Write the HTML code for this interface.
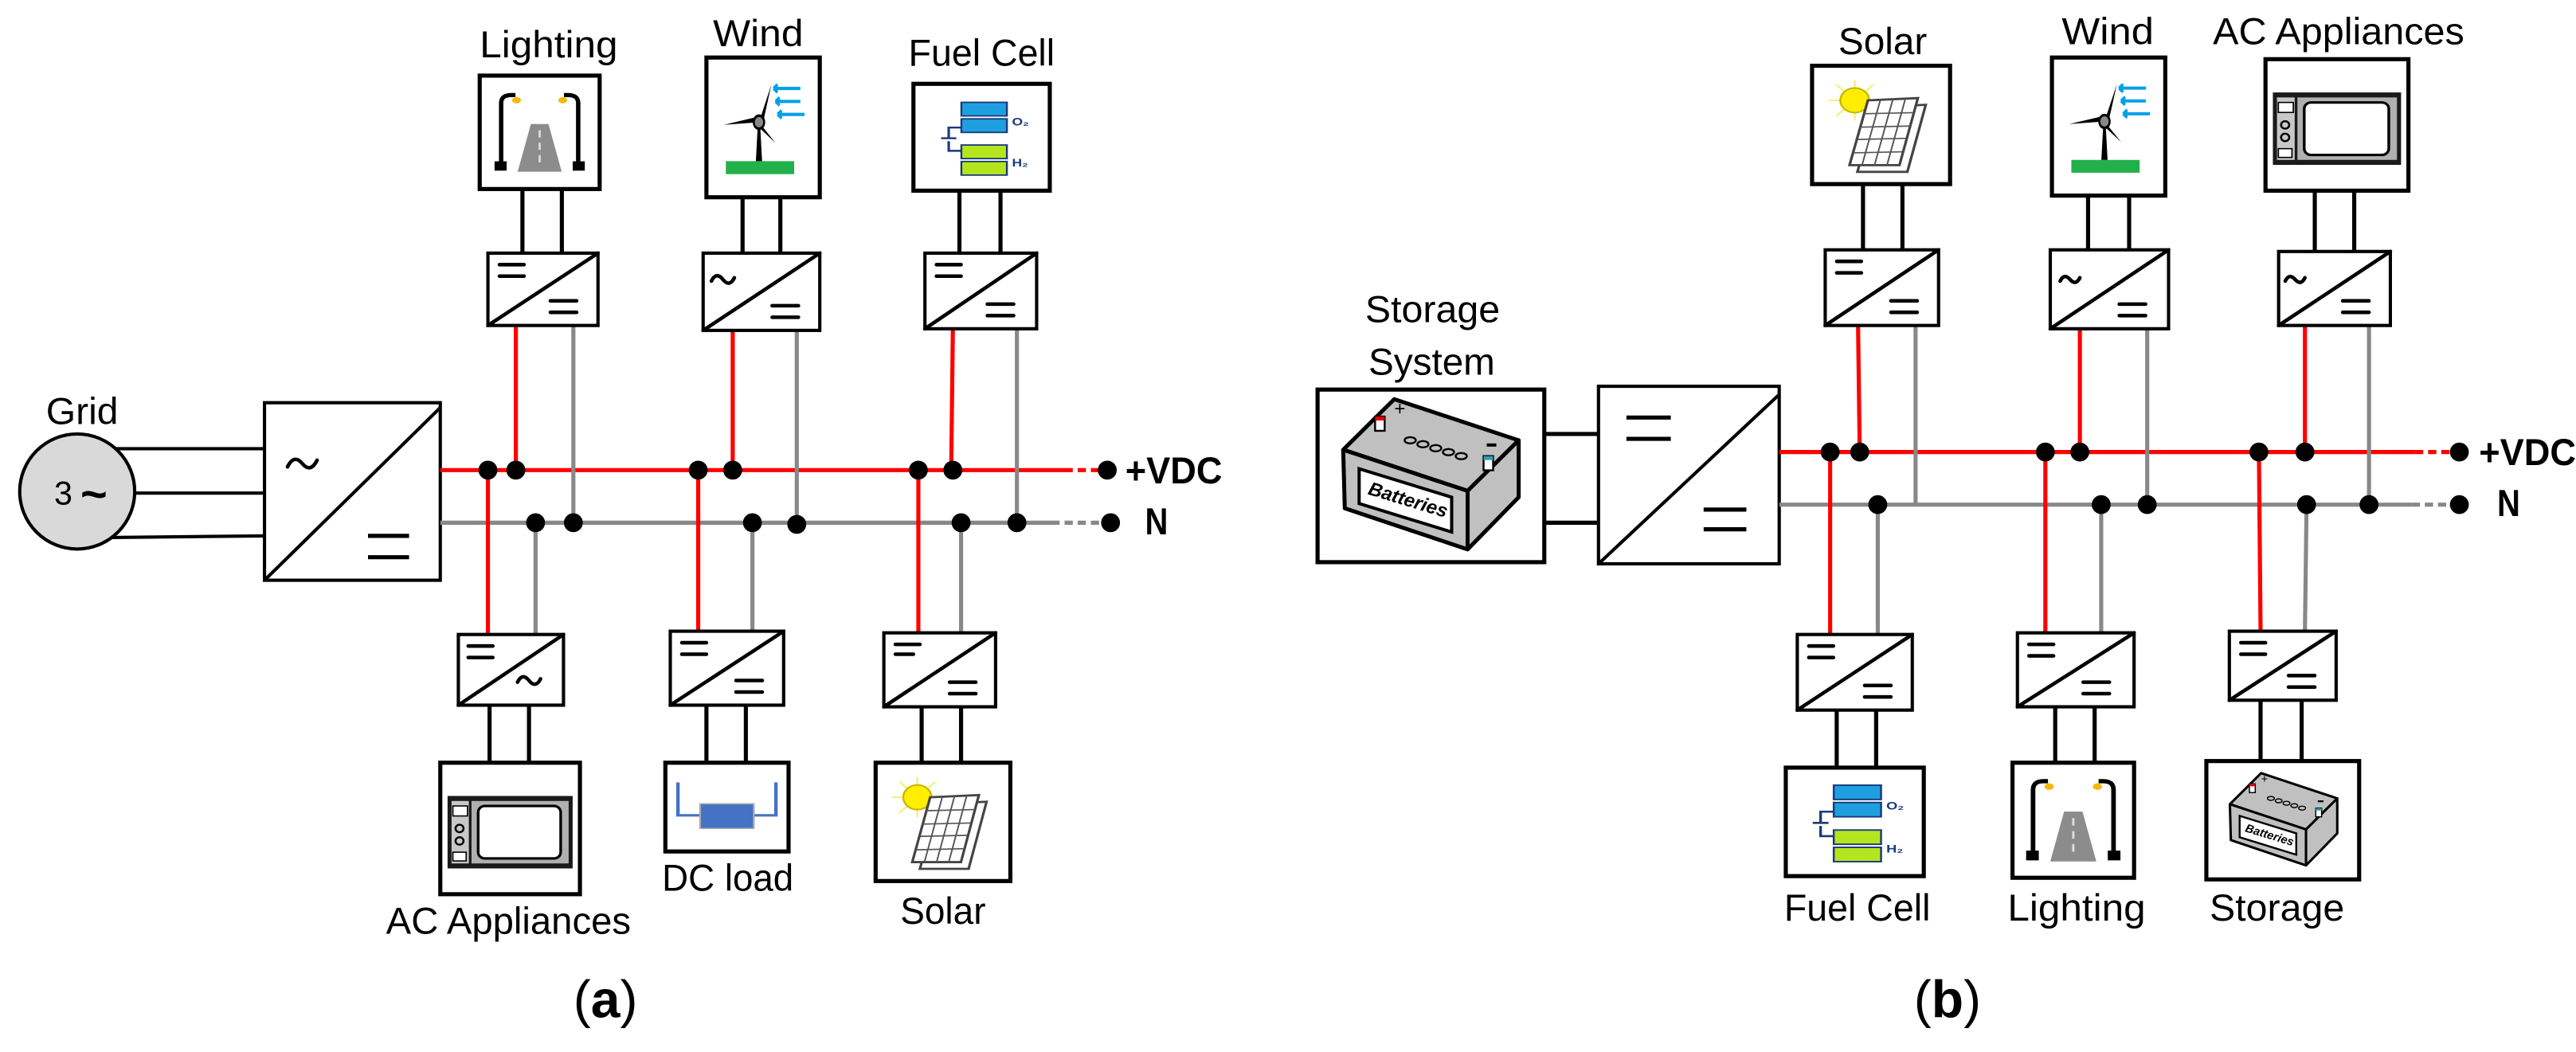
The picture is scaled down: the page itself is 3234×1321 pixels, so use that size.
<!DOCTYPE html>
<html><head><meta charset="utf-8"><style>
html,body{margin:0;padding:0;background:#fff;}
svg{display:block;}
text{font-family:"Liberation Sans",sans-serif;fill:#000;}
</style></head><body>
<svg width="3234" height="1321" viewBox="0 0 1568 640" preserveAspectRatio="none" xmlns="http://www.w3.org/2000/svg">
<defs>
<symbol id="light" viewBox="0 0 100 100" preserveAspectRatio="none">
 <polygon points="30,88 42,42 58,42 70,88" fill="#8c8c8c"/>
 <line x1="50" y1="48" x2="50" y2="84" stroke="#ddd" stroke-width="2" stroke-dasharray="7,5"/>
 <path d="M15,84 L15,22 Q15,14 24,14 L28,14" fill="none" stroke="#000" stroke-width="4"/>
 <path d="M85,84 L85,22 Q85,14 76,14 L72,14" fill="none" stroke="#000" stroke-width="4"/>
 <rect x="9" y="78" width="11" height="9" fill="#000"/><rect x="80" y="78" width="11" height="9" fill="#000"/>
 <ellipse cx="29" cy="19" rx="4" ry="3" fill="#f5b800"/><ellipse cx="71" cy="19" rx="4" ry="3" fill="#f5b800"/>
</symbol>
<symbol id="wind" viewBox="0 0 100 100" preserveAspectRatio="none">
 <rect x="14" y="76" width="66" height="10" fill="#22b04b"/>
 <polygon points="43,76 49,76 47,46 45,46" fill="#000"/>
 <path d="M46,46 L12,48 L44,42 Z" fill="#000"/>
 <path d="M46,46 L58,17 L50,46 Z" fill="#000"/>
 <path d="M46,46 L62,62 L46,50 Z" fill="#000"/>
 <circle cx="46" cy="46" r="5" fill="#888" stroke="#000" stroke-width="2"/>
 <g stroke="#00a0e8" stroke-width="2.5" fill="none">
 <path d="M60,20 L86,20 M60,20 l4,-3 M60,20 l4,3"/>
 <path d="M62,30 L86,30 M62,30 l4,-3 M62,30 l4,3"/>
 <path d="M64,40 L90,40 M64,40 l4,-3 M64,40 l4,3"/>
 </g>
</symbol>
<symbol id="fuel" viewBox="0 0 100 100" preserveAspectRatio="none">
 <g stroke="#1a3a7a" stroke-width="1.5">
 <rect x="34" y="14" width="36" height="14" fill="#1ea0e0"/><rect x="34" y="31" width="36" height="14" fill="#1ea0e0"/>
 <rect x="34" y="58" width="36" height="14" fill="#b5e61d"/><rect x="34" y="75" width="36" height="14" fill="#b5e61d"/>
 </g>
 <path d="M34,40 L24,40 L24,50 M18,51 L30,51 M24,54 L24,64 L34,64" fill="none" stroke="#1a3a7a" stroke-width="2"/>
 <text x="74" y="38" font-size="11" font-weight="bold" style="fill:#1a3a7a">O₂</text>
 <text x="74" y="80" font-size="11" font-weight="bold" style="fill:#1a3a7a">H₂</text>
</symbol>
<symbol id="micro" viewBox="0 0 100 100" preserveAspectRatio="none">
 <rect x="3" y="24" width="94" height="58" fill="#1a1a1a"/>
 <rect x="21" y="28" width="73" height="50" fill="#b0b0b0"/>
 <rect x="26" y="32" width="62" height="42" rx="5" fill="#fff" stroke="#000" stroke-width="2"/>
 <rect x="6" y="28" width="13" height="50" fill="#c8c8c8"/>
 <rect x="7" y="32" width="11" height="8" fill="#fff" stroke="#000"/>
 <circle cx="12" cy="50" r="3" fill="none" stroke="#000" stroke-width="1.5"/>
 <circle cx="12" cy="60" r="3" fill="none" stroke="#000" stroke-width="1.5"/>
 <rect x="7" y="69" width="10" height="7" fill="#fff" stroke="#000"/>
</symbol>
<symbol id="dcl" viewBox="0 0 100 100" preserveAspectRatio="none">
 <path d="M8,20 L8,60 L92,60 L92,20" fill="none" stroke="#4472c4" stroke-width="3"/>
 <rect x="27" y="46" width="46" height="30" fill="#4472c4" stroke="#aaa" stroke-width="1.5"/>
</symbol>
<symbol id="solar" viewBox="0 0 100 100" preserveAspectRatio="none">
 <g stroke="#f5f07a" stroke-width="1.5">
 <line x1="30" y1="10" x2="30" y2="46"/><line x1="10" y1="28" x2="50" y2="28"/><line x1="16" y1="14" x2="44" y2="42"/><line x1="44" y1="14" x2="16" y2="42"/>
 </g>
 <ellipse cx="30" cy="28" rx="11" ry="11" fill="#ffee00" stroke="#c8b800" stroke-width="1.5"/>
 <polygon points="46,34 84,32 70,92 32,92" fill="#fff" stroke="#444" stroke-width="2"/>
 <polygon points="40,28 78,26 64,86 26,86" fill="#fff" stroke="#444" stroke-width="2"/>
 <g stroke="#555" stroke-width="1.2">
 <line x1="49.5" y1="27.5" x2="35.5" y2="86"/><line x1="59" y1="27" x2="45" y2="86"/><line x1="68.5" y1="26.5" x2="54.5" y2="86"/>
 <line x1="37" y1="40" x2="75" y2="39"/><line x1="34" y1="52" x2="72" y2="51"/><line x1="32" y1="63" x2="69" y2="62"/><line x1="29" y1="75" x2="67" y2="74"/>
 </g>
</symbol>
<symbol id="bat" viewBox="0 0 138 105" preserveAspectRatio="none">
 <g stroke="#000" stroke-width="2.5" stroke-linejoin="round">
 <polygon points="14,36 46,4 124,30 92,62" fill="#c0c0c0"/>
 <polygon points="14,36 92,62 92,99 15,73" fill="#c0c0c0"/>
 <polygon points="92,62 124,30 124,66 92,99" fill="#c0c0c0"/>
 </g>
 <polygon points="24,48 82,66 82,88 24,70" fill="#fff" stroke="#000" stroke-width="2"/>
 <text x="0" y="0" font-size="12" font-weight="bold" font-style="italic" transform="translate(29,64) rotate(17)">Batteries</text>
 <rect x="34" y="15" width="6" height="9" fill="#fff" stroke="#000" stroke-width="1.2"/><rect x="34" y="15" width="6" height="2.5" fill="#e00000"/>
 <rect x="102" y="40" width="6" height="9" fill="#fff" stroke="#000" stroke-width="1.2"/><rect x="102" y="40" width="6" height="2.5" fill="#2aa0b0"/>
 <text x="46" y="14" font-size="12">+</text>
 <line x1="104" y1="33" x2="110" y2="33" stroke="#000" stroke-width="2"/>
 <g fill="none" stroke="#000" stroke-width="1.2">
 <ellipse cx="56" cy="30" rx="3.5" ry="2"/><ellipse cx="64" cy="32.5" rx="3.5" ry="2"/><ellipse cx="72" cy="35" rx="3.5" ry="2"/><ellipse cx="80" cy="37.5" rx="3.5" ry="2"/><ellipse cx="88" cy="40" rx="3.5" ry="2"/>
 </g>
</symbol>
</defs>

<g fill="none" stroke-linecap="butt">
<ellipse cx="47" cy="299" rx="35" ry="35" fill="#d9d9d9" stroke="#000" stroke-width="2"/>
<g stroke="#000" stroke-width="2">
<line x1="70" y1="273" x2="161" y2="273"/><line x1="82" y1="300" x2="161" y2="300"/><line x1="68" y1="327" x2="161" y2="326"/>
</g>
<rect x="161" y="245" width="107" height="108" fill="#fff" stroke="#000" stroke-width="2"/>
<line x1="161" y1="353" x2="268" y2="248" stroke="#000" stroke-width="2"/>
<line x1="224" y1="326" x2="249" y2="326" stroke="#000" stroke-width="2.5"/><line x1="224" y1="339" x2="249" y2="339" stroke="#000" stroke-width="2.5"/>

<line x1="268" y1="286" x2="648" y2="286" stroke="#ff0000" stroke-width="2.5"/>
<line x1="648" y1="286" x2="672" y2="286" stroke="#ff0000" stroke-width="2.5" stroke-dasharray="5,3"/>
<line x1="268" y1="318" x2="640" y2="318" stroke="#888" stroke-width="2.5"/>
<line x1="640" y1="318" x2="674" y2="318" stroke="#888" stroke-width="2.5" stroke-dasharray="5,3"/>

<g stroke="#ff0000" stroke-width="2.5">
<line x1="314" y1="198" x2="314" y2="286"/><line x1="446" y1="201" x2="446" y2="286"/><line x1="580" y1="200" x2="579" y2="286"/>
<line x1="297" y1="286" x2="297" y2="386"/><line x1="425" y1="286" x2="425" y2="384"/><line x1="559" y1="286" x2="559" y2="385"/>
</g>
<g stroke="#888" stroke-width="2.5">
<line x1="349" y1="198" x2="349" y2="318"/><line x1="485" y1="201" x2="485" y2="319"/><line x1="619" y1="200" x2="619" y2="318"/>
<line x1="326" y1="318" x2="326" y2="386"/><line x1="458" y1="318" x2="458" y2="384"/><line x1="585" y1="318" x2="585" y2="385"/>
</g>
<g stroke="#000" stroke-width="2.5">
<line x1="318" y1="115" x2="318" y2="154"/><line x1="342" y1="115" x2="342" y2="154"/>
<line x1="452" y1="120" x2="452" y2="154"/><line x1="475" y1="120" x2="475" y2="154"/>
<line x1="584" y1="116" x2="584" y2="154"/><line x1="609" y1="116" x2="609" y2="154"/>
<line x1="298" y1="429" x2="298" y2="464"/><line x1="322" y1="429" x2="322" y2="464"/>
<line x1="430" y1="429" x2="430" y2="464"/><line x1="454" y1="429" x2="454" y2="464"/>
<line x1="561" y1="430" x2="561" y2="464"/><line x1="585" y1="430" x2="585" y2="464"/>
</g>
<g stroke="#000" stroke-width="2.5" fill="#fff">
<rect x="292" y="46" width="73" height="69"/>
<rect x="430" y="35" width="69" height="85"/>
<rect x="556" y="51" width="83" height="65"/>
<rect x="268" y="464" width="85" height="80"/>
<rect x="405" y="464" width="75" height="54"/>
<rect x="533" y="464" width="82" height="72"/>
</g>
<use href="#light" x="295" y="49" width="67" height="63"/>
<use href="#wind" x="433" y="38" width="63" height="79"/>
<use href="#fuel" x="559" y="54" width="77" height="59"/>
<use href="#micro" x="270" y="466" width="81" height="76"/>
<use href="#dcl" x="407" y="466" width="71" height="50"/>
<use href="#solar" x="535" y="466" width="78" height="68"/>

<g stroke="#000" stroke-width="2" fill="#fff">
<rect x="297" y="154" width="67" height="44"/><rect x="428" y="154" width="71" height="47"/><rect x="563" y="154" width="68" height="46"/>
<rect x="279" y="386" width="64" height="43"/><rect x="408" y="384" width="69" height="45"/><rect x="538" y="385" width="68" height="45"/>
</g>
<g stroke="#000" stroke-width="2.2" stroke-linecap="round">
<line x1="297" y1="198" x2="364" y2="154"/><line x1="428" y1="201" x2="499" y2="154"/><line x1="563" y1="200" x2="631" y2="154"/>
<line x1="279" y1="429" x2="343" y2="386"/><line x1="408" y1="429" x2="477" y2="384"/><line x1="538" y1="430" x2="606" y2="385"/>
<path d="M304,161h15M304,168h15"/><path d="M570,161h15M570,168h15"/>
<path d="M285,393h15M285,400h15"/><path d="M415,391h15M415,398h15"/><path d="M545,392h15M545,398h11"/>
<path d="M335,183h16M335,190h16"/><path d="M470,186h16M470,193h16"/><path d="M601,185h16M601,192h16"/>
<path d="M448,414h16M448,421h16"/><path d="M578,415h16M578,422h16"/>
</g>
<g fill="#000" stroke="#000" stroke-width="2.5">
<circle cx="297" cy="286" r="4.5"/><circle cx="314" cy="286" r="4.5"/><circle cx="425" cy="286" r="4.5"/><circle cx="446" cy="286" r="4.5"/><circle cx="559" cy="286" r="4.5"/><circle cx="580" cy="286" r="4.5"/><circle cx="674" cy="286" r="4.5"/>
<circle cx="326" cy="318" r="4.5"/><circle cx="349" cy="318" r="4.5"/><circle cx="458" cy="318" r="4.5"/><circle cx="485" cy="319" r="4.5"/><circle cx="585" cy="318" r="4.5"/><circle cx="619" cy="318" r="4.5"/><circle cx="676" cy="318" r="4.5"/>
</g>

<rect x="802" y="237" width="138" height="105" fill="#fff" stroke="#000" stroke-width="2.5"/>
<use href="#bat" x="804" y="239" width="134" height="101"/>
<line x1="940" y1="264" x2="973" y2="264" stroke="#000" stroke-width="2.5"/>
<line x1="940" y1="318" x2="973" y2="318" stroke="#000" stroke-width="2.5"/>
<rect x="973" y="235" width="110" height="108" fill="#fff" stroke="#000" stroke-width="2"/>
<line x1="973" y1="343" x2="1083" y2="240" stroke="#000" stroke-width="2"/>
<path d="M990,254h27M990,267h27M1037,310h26M1037,322h26" stroke="#000" stroke-width="2.5"/>

<line x1="1083" y1="275" x2="1470" y2="275" stroke="#ff0000" stroke-width="2.5"/>
<line x1="1470" y1="275" x2="1494" y2="275" stroke="#ff0000" stroke-width="2.5" stroke-dasharray="5,3"/>
<line x1="1083" y1="307" x2="1468" y2="307" stroke="#888" stroke-width="2.5"/>
<line x1="1468" y1="307" x2="1494" y2="307" stroke="#888" stroke-width="2.5" stroke-dasharray="5,3"/>

<g stroke="#ff0000" stroke-width="2.5">
<line x1="1131" y1="198" x2="1132" y2="275"/><line x1="1266" y1="200" x2="1266" y2="275"/><line x1="1403" y1="198" x2="1403" y2="275"/>
<line x1="1114" y1="275" x2="1114" y2="386"/><line x1="1245" y1="275" x2="1245" y2="385"/><line x1="1375" y1="275" x2="1376" y2="384"/>
</g>
<g stroke="#888" stroke-width="2.5">
<line x1="1166" y1="198" x2="1166" y2="307"/><line x1="1307" y1="200" x2="1307" y2="307"/><line x1="1442" y1="198" x2="1442" y2="307"/>
<line x1="1143" y1="307" x2="1143" y2="386"/><line x1="1279" y1="307" x2="1279" y2="385"/><line x1="1404" y1="307" x2="1403" y2="384"/>
</g>
<g stroke="#000" stroke-width="2.5">
<line x1="1134" y1="112" x2="1134" y2="152"/><line x1="1158" y1="112" x2="1158" y2="152"/>
<line x1="1271" y1="119" x2="1271" y2="152"/><line x1="1296" y1="119" x2="1296" y2="152"/>
<line x1="1409" y1="116" x2="1409" y2="153"/><line x1="1433" y1="116" x2="1433" y2="153"/>
<line x1="1118" y1="432" x2="1118" y2="467"/><line x1="1142" y1="432" x2="1142" y2="467"/>
<line x1="1251" y1="430" x2="1251" y2="464"/><line x1="1275" y1="430" x2="1275" y2="464"/>
<line x1="1376" y1="426" x2="1376" y2="463"/><line x1="1401" y1="426" x2="1401" y2="463"/>
</g>
<g stroke="#000" stroke-width="2.5" fill="#fff">
<rect x="1103" y="40" width="84" height="72"/>
<rect x="1249" y="35" width="69" height="84"/>
<rect x="1379" y="36" width="87" height="80"/>
<rect x="1087" y="467" width="84" height="66"/>
<rect x="1225" y="464" width="74" height="70"/>
<rect x="1343" y="463" width="93" height="72"/>
</g>
<use href="#solar" x="1105" y="42" width="80" height="68"/>
<use href="#wind" x="1252" y="38" width="63" height="78"/>
<use href="#micro" x="1381" y="38" width="83" height="76"/>
<use href="#fuel" x="1089" y="469" width="80" height="62"/>
<use href="#light" x="1227" y="466" width="70" height="66"/>
<use href="#bat" x="1349" y="468" width="82" height="62"/>

<g stroke="#000" stroke-width="2" fill="#fff">
<rect x="1111" y="152" width="69" height="46"/><rect x="1248" y="152" width="72" height="48"/><rect x="1387" y="153" width="68" height="45"/>
<rect x="1094" y="386" width="70" height="46"/><rect x="1228" y="385" width="71" height="45"/><rect x="1357" y="384" width="65" height="42"/>
</g>
<g stroke="#000" stroke-width="2.2" stroke-linecap="round">
<line x1="1111" y1="198" x2="1180" y2="152"/><line x1="1248" y1="200" x2="1320" y2="152"/><line x1="1387" y1="198" x2="1455" y2="153"/>
<line x1="1094" y1="432" x2="1164" y2="386"/><line x1="1228" y1="430" x2="1299" y2="385"/><line x1="1357" y1="426" x2="1422" y2="384"/>
<path d="M1118,159h15M1118,166h15"/>
<path d="M1101,393h15M1101,400h15"/><path d="M1235,392h15M1235,399h15"/><path d="M1364,391h15M1364,398h15"/>
<path d="M1151,183h16M1151,190h16"/><path d="M1290,185h16M1290,192h16"/><path d="M1426,183h16M1426,190h16"/>
<path d="M1135,417h16M1135,424h16"/><path d="M1268,415h16M1268,422h16"/><path d="M1393,411h16M1393,418h16"/>
</g>
<!-- tildes -->
<g stroke="#000" stroke-width="2.2" fill="none" stroke-linecap="round">
<path d="M175,284 q4,-8 9,-2 t9,-2"/>
<path d="M433,171 q3,-6 7,-1 t7,-1"/>
<path d="M315,415 q3,-6 7,-1 t7,-1"/>
<path d="M1254,171 q2.5,-5 6,-1 t6,-1"/>
<path d="M1391,171 q2.5,-5 6,-1 t6,-1"/>
</g>
<g fill="#000" stroke="#000" stroke-width="2.5">
<circle cx="1114" cy="275" r="4.5"/><circle cx="1132" cy="275" r="4.5"/><circle cx="1245" cy="275" r="4.5"/><circle cx="1266" cy="275" r="4.5"/><circle cx="1375" cy="275" r="4.5"/><circle cx="1403" cy="275" r="4.5"/><circle cx="1497" cy="275" r="4.5"/>
<circle cx="1143" cy="307" r="4.5"/><circle cx="1279" cy="307" r="4.5"/><circle cx="1307" cy="307" r="4.5"/><circle cx="1404" cy="307" r="4.5"/><circle cx="1442" cy="307" r="4.5"/><circle cx="1497" cy="307" r="4.5"/>
</g>
</g>

<g font-size="23">
<text x="292" y="35" textLength="84" lengthAdjust="spacingAndGlyphs">Lighting</text>
<text x="434" y="28" textLength="55" lengthAdjust="spacingAndGlyphs">Wind</text>
<text x="553" y="40" textLength="89" lengthAdjust="spacingAndGlyphs">Fuel Cell</text>
<text x="28" y="258" textLength="44" lengthAdjust="spacingAndGlyphs">Grid</text>
<text x="33" y="307" font-size="20">3</text>
<text x="49" y="310" font-size="28" font-weight="bold">~</text>
<text x="235" y="568" textLength="149" lengthAdjust="spacingAndGlyphs">AC Appliances</text>
<text x="403" y="542" textLength="80" lengthAdjust="spacingAndGlyphs">DC load</text>
<text x="548" y="562" textLength="52" lengthAdjust="spacingAndGlyphs">Solar</text>
<text x="685" y="294" font-weight="bold" textLength="59" lengthAdjust="spacingAndGlyphs">+VDC</text>
<text x="697" y="325" font-weight="bold" textLength="14" lengthAdjust="spacingAndGlyphs">N</text>

<text x="1119" y="33" textLength="54" lengthAdjust="spacingAndGlyphs">Solar</text>
<text x="1255" y="27" textLength="56" lengthAdjust="spacingAndGlyphs">Wind</text>
<text x="1347" y="27" textLength="153" lengthAdjust="spacingAndGlyphs">AC Appliances</text>
<text x="831" y="196" textLength="82" lengthAdjust="spacingAndGlyphs">Storage</text>
<text x="833" y="228" textLength="77" lengthAdjust="spacingAndGlyphs">System</text>
<text x="1509" y="283" font-weight="bold" textLength="59" lengthAdjust="spacingAndGlyphs">+VDC</text>
<text x="1520" y="314" font-weight="bold" textLength="14" lengthAdjust="spacingAndGlyphs">N</text>
<text x="1086" y="560" textLength="89" lengthAdjust="spacingAndGlyphs">Fuel Cell</text>
<text x="1222" y="560" textLength="84" lengthAdjust="spacingAndGlyphs">Lighting</text>
<text x="1345" y="560" textLength="82" lengthAdjust="spacingAndGlyphs">Storage</text>
</g>
<g font-size="32" style="font-family:'Liberation Serif',serif">
<text x="349" y="619">(<tspan font-weight="bold">a</tspan>)</text>
<text x="1165" y="619">(<tspan font-weight="bold">b</tspan>)</text>
</g>
</svg>
</body></html>
